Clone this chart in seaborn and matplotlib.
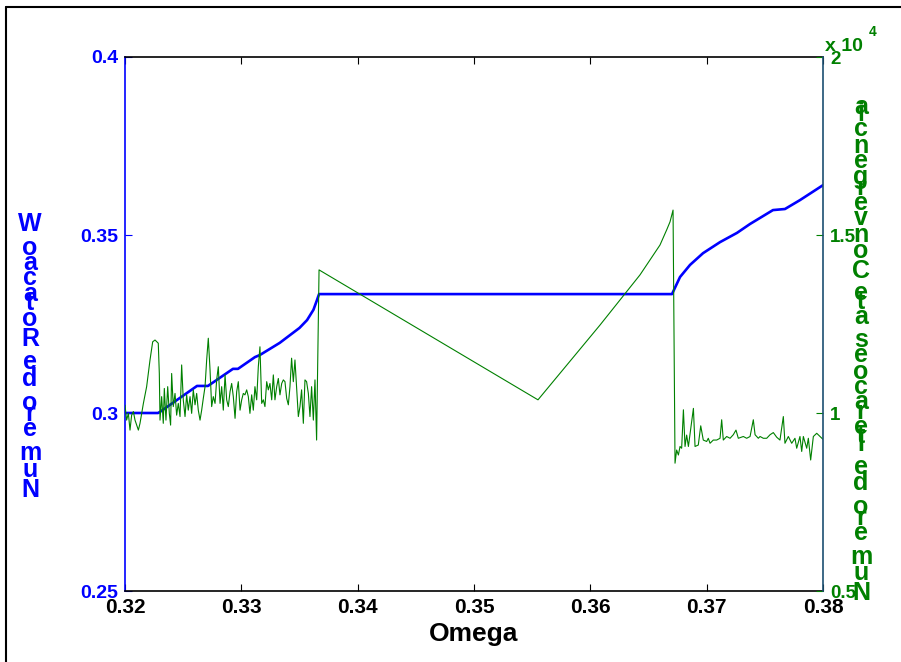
import numpy as np
import pandas as pd
import matplotlib
matplotlib.use("Agg")
import matplotlib.pyplot as plt
from matplotlib.lines import Line2D
import seaborn as sns

# ---------------- data ----------------
x_ticks = [0.32, 0.33, 0.34, 0.35, 0.36, 0.37, 0.38]
x_tick_labels = ["0.32", "0.33", "0.34", "0.35", "0.36", "0.37", "0.38"]
w_ticks = [0.25, 0.30, 0.35, 0.40]
w_tick_labels = ["0.25", "0.3", "0.35", "0.4"]
it_ticks = [0.5, 1.0, 1.5, 2.0]
it_tick_labels = ["0.5", "1", "1.5", "2"]

# rotation number W (left axis)
omega_w = [0.32, 0.32284, 0.32300, 0.32619, 0.32713, 0.32928, 0.32971, 0.33117,
           0.33160, 0.33330, 0.33500, 0.33565, 0.33620, 0.33650, 0.33668, 0.36702,
           0.36771, 0.36857, 0.36969, 0.37115, 0.37261, 0.37373, 0.37570, 0.37673,
           0.37802, 0.38]
rot_w = [0.3000, 0.3000, 0.3003, 0.3076, 0.3076, 0.3124, 0.3124, 0.3157,
         0.3163, 0.3197, 0.3239, 0.3261, 0.3290, 0.3317, 0.3334, 0.3334,
         0.3382, 0.3416, 0.3449, 0.3480, 0.3506, 0.3531, 0.3570, 0.3573,
         0.3598, 0.3640]

# iterations to convergence (right axis, units of 1e4)
omega_it_a = [0.32000, 0.32014, 0.32029, 0.32043, 0.32057, 0.32072, 0.32086, 0.32115,
              0.32129, 0.32158, 0.32186, 0.32215, 0.32238, 0.32258, 0.32286, 0.32295,
              0.32301, 0.32315, 0.32329, 0.32338, 0.32352, 0.32367, 0.32381, 0.32392,
              0.32401, 0.32415, 0.32430, 0.32444, 0.32458, 0.32473, 0.32487, 0.32501,
              0.32516, 0.32530, 0.32544, 0.32559, 0.32573, 0.32587, 0.32602, 0.32616,
              0.32630, 0.32645, 0.32659, 0.32673, 0.32688, 0.32702, 0.32716, 0.32731,
              0.32745, 0.32759, 0.32774, 0.32788, 0.32802, 0.32817, 0.32831, 0.32845,
              0.32860, 0.32874, 0.32888, 0.32903, 0.32917, 0.32931, 0.32946, 0.32960,
              0.32974, 0.32989, 0.33003, 0.33017, 0.33031, 0.33046, 0.33060, 0.33074,
              0.33089, 0.33103, 0.33117, 0.33132, 0.33146, 0.33160, 0.33175, 0.33189,
              0.33203, 0.33218, 0.33232, 0.33246, 0.33261, 0.33275, 0.33289, 0.33304,
              0.33318, 0.33332, 0.33347, 0.33361, 0.33375, 0.33390, 0.33404, 0.33418,
              0.33432, 0.33447, 0.33461, 0.33475, 0.33490, 0.33504, 0.33518, 0.33533,
              0.33547, 0.33561, 0.33576, 0.33590, 0.33604, 0.33619, 0.33633, 0.33647,
              0.33662]
iters_a = [1.022, 0.980, 0.999, 0.952, 0.994, 1.004, 0.980, 0.952,
           0.971, 1.027, 1.074, 1.149, 1.200, 1.205, 1.196, 1.111,
           0.980, 1.046, 0.971, 1.069, 0.980, 1.074, 0.999, 0.966,
           1.111, 1.018, 1.055, 0.994, 1.027, 0.990, 1.135, 1.037,
           0.990, 1.051, 1.008, 1.046, 0.999, 1.065, 1.023, 1.055,
           1.008, 0.980, 1.008, 1.041, 1.074, 1.149, 1.210, 1.121,
           1.018, 1.046, 1.027, 1.093, 1.130, 1.027, 1.074, 1.008,
           1.107, 1.037, 1.018, 1.060, 1.083, 1.046, 0.985, 1.060,
           1.088, 1.008, 1.037, 1.055, 1.051, 1.065, 1.046, 0.999,
           1.051, 1.008, 1.074, 1.037, 1.130, 1.186, 1.027, 1.037,
           1.018, 1.088, 1.065, 1.083, 1.037, 1.107, 1.037, 1.074,
           1.097, 1.051, 1.083, 1.093, 1.088, 1.041, 1.023, 1.074,
           1.154, 1.088, 1.149, 1.074, 0.990, 1.018, 1.065, 0.971,
           1.093, 1.088, 1.055, 0.990, 1.074, 0.980, 1.093, 0.924,
           1.261]

omega_it_b = [0.33668, 0.35550, 0.36083, 0.36427, 0.36599, 0.36657, 0.36685, 0.36711]
iters_b = [1.402, 1.037, 1.247, 1.388, 1.472, 1.515, 1.537, 1.570]

omega_it_c = [0.36728, 0.36742, 0.36757, 0.36771, 0.36785, 0.36800, 0.36814, 0.36828,
              0.36843, 0.36886, 0.36900, 0.36928, 0.36949, 0.36971, 0.37000, 0.37014,
              0.37029, 0.37057, 0.37086, 0.37115, 0.37129, 0.37143, 0.37172, 0.37201,
              0.37229, 0.37252, 0.37272, 0.37315, 0.37344, 0.37373, 0.37401, 0.37416,
              0.37444, 0.37459, 0.37487, 0.37516, 0.37545, 0.37573, 0.37602, 0.37630,
              0.37659, 0.37673, 0.37702, 0.37731, 0.37759, 0.37774, 0.37802, 0.37817,
              0.37831, 0.37860, 0.37874, 0.37894, 0.37917, 0.37946, 0.37974, 0.38000]
iters_c = [0.859, 0.896, 0.882, 0.906, 0.901, 1.009, 0.906, 0.938,
           0.906, 1.013, 0.906, 0.910, 0.964, 0.924, 0.920, 0.929,
           0.915, 0.924, 0.924, 0.929, 0.981, 0.924, 0.934, 0.929,
           0.939, 0.952, 0.929, 0.934, 0.929, 0.934, 0.981, 0.939,
           0.929, 0.934, 0.929, 0.929, 0.939, 0.945, 0.932, 0.924,
           0.990, 0.915, 0.934, 0.915, 0.929, 0.901, 0.934, 0.892,
           0.934, 0.901, 0.929, 0.868, 0.934, 0.943, 0.934, 0.926]

x_label = "Omega"
left_label = "Numero de Rotacao W"
right_label = "Numero de Iteracoes ate Convergencia"

BLUE = "#0000ff"
GREEN = "#008000"

# ---------------- style ----------------
sns.set_style("white")
plt.rcParams["font.family"] = ["Liberation Sans", "DejaVu Sans"]
plt.rcParams["font.weight"] = "bold"
NARROW = ["Liberation Sans Narrow", "Liberation Sans", "DejaVu Sans"]

W_PX, H_PX = 901, 662
fig = plt.figure(figsize=(W_PX / 100, H_PX / 100), dpi=100)
fig.patch.set_facecolor("white")

L, R, T, B = 125, 823, 57, 591
ax = fig.add_axes([L / W_PX, 1 - B / H_PX, (R - L) / W_PX, (B - T) / H_PX])
ax2 = ax.twinx()

df_w = pd.DataFrame({"omega": omega_w, "w": rot_w})
df_it = pd.DataFrame({"omega": omega_it_a + omega_it_b + omega_it_c,
                      "it": iters_a + iters_b + iters_c})

sns.lineplot(data=df_w, x="omega", y="w", ax=ax, color=BLUE, linewidth=1.9,
             estimator=None, sort=False)
sns.lineplot(data=df_it, x="omega", y="it", ax=ax2, color=GREEN, linewidth=0.8,
             estimator=None, sort=False)

ax.set_xlim(0.32, 0.38)
ax.set_ylim(0.25, 0.40)
ax2.set_ylim(0.5, 2.0)

ax.set_xticks(x_ticks)
ax.set_xticklabels(x_tick_labels, fontsize=15, fontweight="bold", color="black",
                   family=NARROW)
ax.set_yticks(w_ticks)
ax.set_yticklabels(w_tick_labels, fontsize=14, fontweight="bold", color=BLUE)
ax2.set_yticks(it_ticks)
ax2.set_yticklabels(it_tick_labels, fontsize=13.5, fontweight="bold", color=GREEN)

ax.set_xlabel(x_label, fontsize=19, fontweight="bold", labelpad=4, color="black",
              family=NARROW)
ax.set_ylabel("")
ax2.set_ylabel("")

ax.tick_params(axis="x", direction="in", top=True, bottom=True, length=5,
               width=0.8, color="black", pad=5)
ax.tick_params(axis="y", direction="in", left=True, right=False, length=5,
               width=0.8, color=BLUE, pad=5)
ax2.tick_params(axis="y", direction="in", right=True, left=False, length=5,
                width=0.8, color=GREEN, pad=5)

for a in (ax, ax2):
    for s in a.spines.values():
        s.set_linewidth(1.2)
ax.spines["top"].set_color("black")
ax.spines["bottom"].set_color("black")
ax.spines["left"].set_color(BLUE)
ax.spines["right"].set_visible(False)
ax2.spines["top"].set_visible(False)
ax2.spines["bottom"].set_visible(False)
ax2.spines["left"].set_visible(False)
ax2.spines["right"].set_color("#1b4f72")

# multiplier text for right axis
fig.text(825 / W_PX, 1 - 51 / H_PX, "x 10", fontsize=14, fontweight="bold",
         color=GREEN, ha="left", va="baseline")
fig.text(869 / W_PX, 1 - 36 / H_PX, "4", fontsize=10, fontweight="bold",
         color=GREEN, ha="left", va="baseline")

# stacked (upright-glyph) vertical labels, as in the reference rendering
ADV = {" ": 0.278, "a": 0.556, "c": 0.556, "d": 0.611, "e": 0.556, "g": 0.611,
       "i": 0.278, "m": 0.889, "n": 0.611, "o": 0.611, "r": 0.389, "s": 0.556,
       "t": 0.333, "u": 0.611, "v": 0.556, "C": 0.722, "I": 0.278, "N": 0.722,
       "R": 0.722, "W": 0.944}


def stacked_label(text, x_px, y0_px, em_px, color, fs=18):
    cum = 0.0
    for ch in text:
        if ch != " ":
            fig.text(x_px / W_PX, 1 - (y0_px - cum * em_px) / H_PX, ch,
                     fontsize=fs, fontweight="bold", color=color,
                     ha="center", va="baseline")
        cum += ADV.get(ch, 0.556)


stacked_label(left_label, 30, 497, 27.4, BLUE)
stacked_label(right_label, 861, 600, 27.1, GREEN)

# outer frame lines (top and left)
fig.add_artist(Line2D([5.5 / W_PX, 5.5 / W_PX], [0, 1 - 7 / H_PX],
                      transform=fig.transFigure, color="black", linewidth=1.5))
fig.add_artist(Line2D([5.5 / W_PX, 1], [1 - 7 / H_PX, 1 - 7 / H_PX],
                      transform=fig.transFigure, color="black", linewidth=1.5))

fig.savefig("out.png", dpi=100, facecolor="white")
